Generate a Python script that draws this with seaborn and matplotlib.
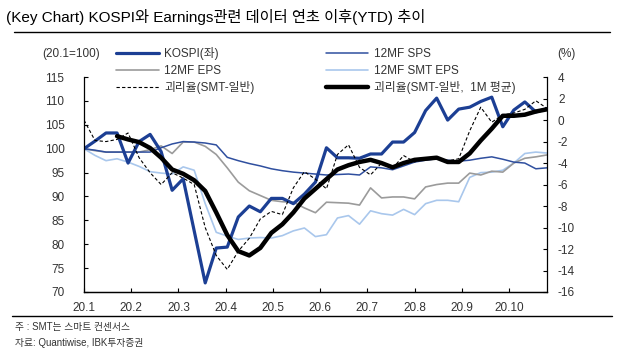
import numpy as np
import pandas as pd
import matplotlib
matplotlib.use("Agg")
import matplotlib.pyplot as plt
import seaborn as sns

# weekly observations, week 0 = start of 2020
weeks = np.arange(43)
month_labels = ["20.1", "20.2", "20.3", "20.4", "20.5", "20.6", "20.7", "20.8", "20.9", "20.10"]

kospi = [100, 101.6, 103.3, 103.3, 97.0, 101.5, 103.0, 99.4, 91.3, 93.7,
         82.8, 71.9, 79.2, 79.4, 85.7, 88.0, 86.8, 89.6, 89.6, 88.5,
         90.5, 93.0, 100.2, 98.1, 98.1, 98.0, 98.9, 98.9, 101.4, 101.4,
         103.4, 108.0, 110.6, 106.0, 108.3, 108.7, 109.9, 110.8, 104.6, 108.1,
         109.8, 107.7, 108.4]
sps = [100, 99.7, 99.3, 99.3, 99.3, 99.3, 99.3, 100.2, 101.0, 101.5,
       101.4, 101.2, 100.8, 98.2, 97.5, 96.9, 96.4, 95.8, 95.4, 95.1,
       94.9, 94.7, 94.5, 94.6, 94.7, 94.5, 96.2, 96.0, 95.6, 96.4,
       97.2, 97.6, 97.9, 97.6, 97.4, 97.6, 98.0, 98.3, 97.8, 97.2,
       97.0, 95.8, 96.0]
eps = [100, 99.6, 99.3, 99.3, 99.3, 99.3, 99.8, 100.6, 99.0, 101.4,
       101.4, 100.5, 98.8, 96.0, 93.0, 91.2, 90.2, 89.2, 88.9, 88.8,
       87.6, 86.6, 88.8, 88.7, 88.6, 88.2, 91.8, 89.7, 89.9, 89.9,
       89.5, 92.0, 92.5, 92.8, 92.8, 94.9, 94.5, 95.3, 95.1, 97.0,
       98.0, 98.3, 98.7]
smt_eps = [100, 98.6, 97.5, 97.9, 97.2, 96.3, 95.2, 94.9, 94.7, 96.2,
           95.5, 88.5, 82.5, 81.7, 81.0, 81.3, 81.4, 81.3, 81.8, 82.8,
           83.4, 81.6, 82.0, 85.5, 86.0, 84.2, 87.0, 86.4, 86.1, 87.3,
           86.2, 88.5, 89.2, 89.2, 88.9, 94.0, 95.0, 95.1, 95.5, 97.0,
           99.0, 99.3, 99.1]
gap = [0.0, -1.9, -2.0, -1.8, -1.2, -3.5, -4.9, -6.0, -4.9, -5.4,
       -6.0, -10.0, -12.6, -13.9, -12.2, -11.0, -9.2, -8.5, -8.8, -6.3,
       -4.8, -5.5, -6.4, -3.2, -2.3, -4.4, -5.1, -4.0, -4.5, -3.3,
       -3.9, -3.6, -3.5, -3.8, -3.6, -1.0, 1.2, -0.2, 0.5, 0.65,
       1.0, 1.8, 1.1]
gap_1m = [np.nan, np.nan, np.nan, -1.5, -1.8, -2.05, -2.6, -3.5, -4.6, -5.0,
          -5.6, -6.6, -8.6, -10.7, -12.2, -12.6, -11.9, -10.5, -9.7, -8.6,
          -7.3, -6.4, -5.5, -4.6, -4.2, -3.9, -3.7, -4.0, -4.4, -4.0,
          -3.7, -3.6, -3.5, -3.9, -3.9, -3.1, -1.9, -0.8, 0.4, 0.4,
          0.5, 0.8, 1.0]

sns.set_style("white")
plt.rcParams['font.family'] = ['Liberation Sans', 'Noto Sans CJK KR', 'DejaVu Sans']
plt.rcParams['axes.unicode_minus'] = False

fig = plt.figure(figsize=(6.23, 3.62), dpi=100)
ax = fig.add_axes([0.1348, 0.1934, 0.743, 0.5936])
ax2 = ax.twinx()

c_kospi = "#1c3f94"
c_sps = "#2f4f9f"
c_eps = "#9b9b9b"
c_smt = "#a9c7ec"

sns.lineplot(x=weeks, y=smt_eps, ax=ax, color=c_smt, lw=1.2, label="12MF SMT EPS")
sns.lineplot(x=weeks, y=eps, ax=ax, color=c_eps, lw=1.2, label="12MF EPS")
sns.lineplot(x=weeks, y=sps, ax=ax, color=c_sps, lw=1.1, label="12MF SPS")
sns.lineplot(x=weeks, y=kospi, ax=ax, color=c_kospi, lw=2.3, label="KOSPI(좌)")
sns.lineplot(x=weeks, y=gap, ax=ax2, color="black", lw=0.8, ls=(0, (3, 2)),
             label="괴리율(SMT-일반)")
sns.lineplot(x=weeks, y=gap_1m, ax=ax2, color="black", lw=3.2,
             label="괴리율(SMT-일반,  1M 평균)")

ax.set_xlim(0, 42)
ax.set_ylim(70, 115)
ax.set_yticks(np.arange(70, 116, 5))
ax2.set_ylim(-16, 4)
ax2.set_yticks(np.arange(-16, 5, 2))
ax.set_xticks(np.arange(10) * 30 / 7)
ax.set_xticklabels(month_labels)

for a in (ax, ax2):
    a.spines["top"].set_visible(False)
    for s in ("left", "right", "bottom"):
        a.spines[s].set_color("black")
        a.spines[s].set_linewidth(0.9)
    a.set_xlabel("")
    a.set_ylabel("")
    a.tick_params(direction="in", length=3, width=0.8, color="black",
                  labelsize=8.5, labelcolor="#333333")
ax.spines["right"].set_visible(False)
ax2.spines["left"].set_visible(False)
ax.tick_params(axis="y", pad=14, left=True)
ax.tick_params(axis="x", pad=7, bottom=True)
ax2.tick_params(axis="y", pad=8, right=True)

h1, l1 = ax.get_legend_handles_labels()
h2, l2 = ax2.get_legend_handles_labels()
ax.get_legend().remove()
ax2.get_legend().remove()
hd = dict(zip(l1 + l2, h1 + h2))
order = ["KOSPI(좌)", "12MF EPS", "괴리율(SMT-일반)",
         "12MF SPS", "12MF SMT EPS", "괴리율(SMT-일반,  1M 평균)"]
fig.legend([hd[k] for k in order], order, ncol=2, loc="upper left",
           bbox_to_anchor=(116 / 623, 1 - 47 / 362), frameon=False,
           fontsize=8.5, handlelength=3.6, handletextpad=0.5,
           labelspacing=0.4, columnspacing=6.0, borderpad=0,
           borderaxespad=0, labelcolor="#333333")

fig.text(100 / 623, 1 - 54 / 362, "(20.1=100)", ha="right", va="center",
         fontsize=8.5, color="#333333")
fig.text(566 / 623, 1 - 54 / 362, "(%)", ha="center", va="center",
         fontsize=8.5, color="#333333")

fig.text(6 / 623, 1 - 17 / 362, "(Key Chart) KOSPI와 Earnings관련 데이터 연초 이후(YTD) 추이",
         ha="left", va="center", fontsize=11, color="black")
fig.add_artist(plt.Line2D([14 / 623, 610 / 623], [1 - 32 / 362, 1 - 32 / 362],
                          color="black", lw=1.0))
fig.add_artist(plt.Line2D([12 / 623, 612 / 623], [1 - 316 / 362, 1 - 316 / 362],
                          color="black", lw=1.0))
fig.text(15 / 623, 1 - 327 / 362, "주 : SMT는 스마트 컨센서스", ha="left", va="center",
         fontsize=7, color="#333333")
fig.text(15 / 623, 1 - 343 / 362, "자료: Quantiwise, IBK투자증권", ha="left", va="center",
         fontsize=7, color="#333333")

fig.savefig("out.png", dpi=100)
